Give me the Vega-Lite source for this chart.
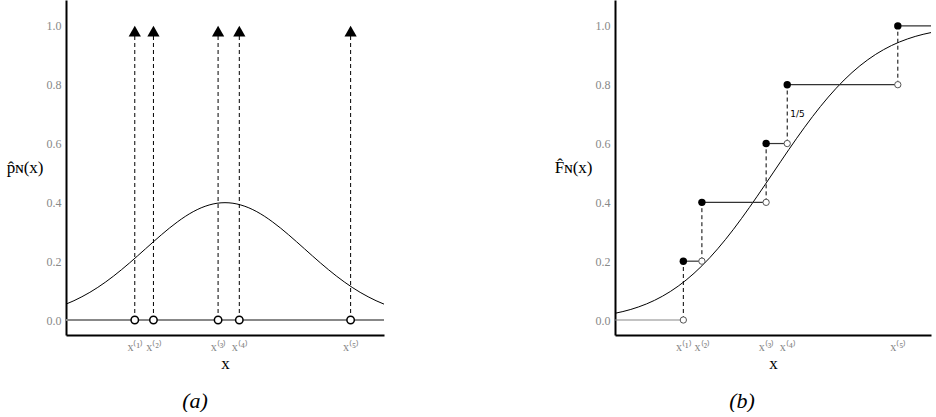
{
  "$schema": "https://vega.github.io/schema/vega-lite/v6.json",
  "padding": {"left": 6, "top": 0, "right": 4, "bottom": 0},
  "background": "white",
  "config": {
    "view": {"stroke": null},
    "font": "Liberation Serif",
    "axis": {"grid": false, "ticks": false, "domainColor": "#000", "domainWidth": 2, "labelColor": "#888", "labelFont": "Liberation Serif", "labelFontSize": 12, "titleFont": "Liberation Serif", "titleFontWeight": "normal", "titleFontSize": 17, "titleColor": "#000"},
    "title": {"font": "Liberation Serif", "fontStyle": "italic", "fontSize": 22, "fontWeight": "normal", "orient": "bottom", "anchor": "middle", "offset": 20, "color": "#000"}
  },
  "datasets": {
    "curve": [
      {"x": -2.0, "pdf": 0.0540, "cdf": 0.0228}, {"x": -1.9, "pdf": 0.0656, "cdf": 0.0287}, {"x": -1.8, "pdf": 0.0790, "cdf": 0.0359}, {"x": -1.7, "pdf": 0.0940, "cdf": 0.0446}, {"x": -1.6, "pdf": 0.1109, "cdf": 0.0548}, {"x": -1.5, "pdf": 0.1295, "cdf": 0.0668}, {"x": -1.4, "pdf": 0.1497, "cdf": 0.0808}, {"x": -1.3, "pdf": 0.1714, "cdf": 0.0968}, {"x": -1.2, "pdf": 0.1942, "cdf": 0.1151}, {"x": -1.1, "pdf": 0.2179, "cdf": 0.1357}, {"x": -1.0, "pdf": 0.2420, "cdf": 0.1587}, {"x": -0.9, "pdf": 0.2661, "cdf": 0.1841}, {"x": -0.8, "pdf": 0.2897, "cdf": 0.2119}, {"x": -0.7, "pdf": 0.3123, "cdf": 0.2420}, {"x": -0.6, "pdf": 0.3332, "cdf": 0.2743}, {"x": -0.5, "pdf": 0.3521, "cdf": 0.3085}, {"x": -0.4, "pdf": 0.3683, "cdf": 0.3446}, {"x": -0.3, "pdf": 0.3814, "cdf": 0.3821}, {"x": -0.2, "pdf": 0.3910, "cdf": 0.4207}, {"x": -0.1, "pdf": 0.3970, "cdf": 0.4602}, {"x": 0.0, "pdf": 0.3989, "cdf": 0.5000},
      {"x": 0.1, "pdf": 0.3970, "cdf": 0.5398}, {"x": 0.2, "pdf": 0.3910, "cdf": 0.5793}, {"x": 0.3, "pdf": 0.3814, "cdf": 0.6179}, {"x": 0.4, "pdf": 0.3683, "cdf": 0.6554}, {"x": 0.5, "pdf": 0.3521, "cdf": 0.6915}, {"x": 0.6, "pdf": 0.3332, "cdf": 0.7257}, {"x": 0.7, "pdf": 0.3123, "cdf": 0.7580}, {"x": 0.8, "pdf": 0.2897, "cdf": 0.7881}, {"x": 0.9, "pdf": 0.2661, "cdf": 0.8159}, {"x": 1.0, "pdf": 0.2420, "cdf": 0.8413}, {"x": 1.1, "pdf": 0.2179, "cdf": 0.8643}, {"x": 1.2, "pdf": 0.1942, "cdf": 0.8849}, {"x": 1.3, "pdf": 0.1714, "cdf": 0.9032}, {"x": 1.4, "pdf": 0.1497, "cdf": 0.9192}, {"x": 1.5, "pdf": 0.1295, "cdf": 0.9332}, {"x": 1.6, "pdf": 0.1109, "cdf": 0.9452}, {"x": 1.7, "pdf": 0.0940, "cdf": 0.9554}, {"x": 1.8, "pdf": 0.0790, "cdf": 0.9641}, {"x": 1.9, "pdf": 0.0656, "cdf": 0.9713}, {"x": 2.0, "pdf": 0.0540, "cdf": 0.9772}
    ],
    "samples": [
      {"x": -1.135, "rank": 1, "lo": 0.0, "hi": 0.2},
      {"x": -0.9, "rank": 2, "lo": 0.2, "hi": 0.4},
      {"x": -0.087, "rank": 3, "lo": 0.4, "hi": 0.6},
      {"x": 0.18, "rank": 4, "lo": 0.6, "hi": 0.8},
      {"x": 1.58, "rank": 5, "lo": 0.8, "hi": 1.0}
    ],
    "steps": [
      {"x": -2.0, "x2": -1.135, "y": 0.0},
      {"x": -1.135, "x2": -0.9, "y": 0.2},
      {"x": -0.9, "x2": -0.087, "y": 0.4},
      {"x": -0.087, "x2": 0.18, "y": 0.6},
      {"x": 0.18, "x2": 1.58, "y": 0.8},
      {"x": 1.58, "x2": 2.0, "y": 1.0}
    ],
    "note": [{"x": 0.18, "y": 0.70, "label": "1/5"}]
  },
  "spacing": 168,
  "hconcat": [
    {
      "title": {"text": "(a)", "dx": -30},
      "width": 318,
      "height": 335,
      "layer": [
        {
          "data": {"name": "curve"},
          "mark": {"type": "line", "color": "#000", "strokeWidth": 1, "interpolate": "monotone"},
          "encoding": {
            "x": {"field": "x", "type": "quantitative", "scale": {"domain": [-2, 2], "nice": false, "zero": false},
              "axis": {"values": [-1.135, -0.9, -0.087, 0.18, 1.58], "labelExpr": "datum.value < -1 ? 'x⁽¹⁾' : datum.value < -0.5 ? 'x⁽²⁾' : datum.value < 0 ? 'x⁽³⁾' : datum.value < 1 ? 'x⁽⁴⁾' : 'x⁽⁵⁾'", "title": "x", "labelPadding": 6, "titlePadding": 3}},
            "y": {"field": "pdf", "type": "quantitative", "scale": {"domain": [-0.051, 1.088], "nice": false, "zero": false},
              "axis": {"values": [0, 0.2, 0.4, 0.6, 0.8, 1.0], "format": ".1f", "title": "p̂ɴ(x)", "titleAngle": 0, "titleAlign": "right", "titleBaseline": "middle", "titlePadding": 3, "labelPadding": 5}}
          }
        },
        {
          "data": {"name": "samples"},
          "mark": {"type": "rule", "color": "#888", "strokeWidth": 1.5},
          "encoding": {"y": {"datum": 0}}
        },
        {
          "data": {"name": "samples"},
          "mark": {"type": "rule", "color": "#000", "strokeWidth": 1, "strokeDash": [4, 3]},
          "encoding": {
            "x": {"field": "x", "type": "quantitative"},
            "y": {"datum": 0},
            "y2": {"datum": 0.97}
          }
        },
        {
          "data": {"name": "samples"},
          "mark": {"type": "point", "shape": "triangle-up", "filled": true, "color": "#000", "size": 150, "opacity": 1},
          "encoding": {
            "x": {"field": "x", "type": "quantitative"},
            "y": {"datum": 0.982}
          }
        },
        {
          "data": {"name": "samples"},
          "mark": {"type": "point", "filled": true, "fill": "#fff", "stroke": "#000", "strokeWidth": 1.5, "size": 55, "opacity": 1},
          "encoding": {
            "x": {"field": "x", "type": "quantitative"},
            "y": {"datum": 0}
          }
        }
      ]
    },
    {
      "title": {"text": "(b)", "dx": -31},
      "width": 316,
      "height": 335,
      "layer": [
        {
          "data": {"name": "curve"},
          "mark": {"type": "line", "color": "#000", "strokeWidth": 1, "interpolate": "monotone"},
          "encoding": {
            "x": {"field": "x", "type": "quantitative", "scale": {"domain": [-2, 2], "nice": false, "zero": false},
              "axis": {"values": [-1.135, -0.9, -0.087, 0.18, 1.58], "labelExpr": "datum.value < -1 ? 'x⁽¹⁾' : datum.value < -0.5 ? 'x⁽²⁾' : datum.value < 0 ? 'x⁽³⁾' : datum.value < 1 ? 'x⁽⁴⁾' : 'x⁽⁵⁾'", "title": "x", "labelPadding": 6, "titlePadding": 3}},
            "y": {"field": "cdf", "type": "quantitative", "scale": {"domain": [-0.051, 1.088], "nice": false, "zero": false},
              "axis": {"values": [0, 0.2, 0.4, 0.6, 0.8, 1.0], "format": ".1f", "title": "F̂ɴ(x)", "titleAngle": 0, "titleAlign": "right", "titleBaseline": "middle", "titlePadding": 3, "labelPadding": 5}}
          }
        },
        {
          "data": {"name": "steps"},
          "mark": {"type": "rule", "strokeWidth": 1.2},
          "encoding": {
            "x": {"field": "x", "type": "quantitative"},
            "x2": {"field": "x2"},
            "y": {"field": "y", "type": "quantitative"},
            "color": {"condition": {"test": "datum.y == 0", "value": "#888"}, "value": "#333"}
          }
        },
        {
          "data": {"name": "samples"},
          "mark": {"type": "rule", "color": "#000", "strokeWidth": 1, "strokeDash": [4, 3]},
          "encoding": {
            "x": {"field": "x", "type": "quantitative"},
            "y": {"field": "lo", "type": "quantitative"},
            "y2": {"field": "hi"}
          }
        },
        {
          "data": {"name": "samples"},
          "mark": {"type": "point", "filled": true, "fill": "#fff", "stroke": "#555", "strokeWidth": 1, "size": 40, "opacity": 1},
          "encoding": {
            "x": {"field": "x", "type": "quantitative"},
            "y": {"field": "lo", "type": "quantitative"}
          }
        },
        {
          "data": {"name": "samples"},
          "mark": {"type": "point", "filled": true, "color": "#000", "size": 55, "opacity": 1},
          "encoding": {
            "x": {"field": "x", "type": "quantitative"},
            "y": {"field": "hi", "type": "quantitative"}
          }
        },
        {
          "data": {"name": "note"},
          "mark": {"type": "text", "font": "DejaVu Sans", "fontSize": 9, "align": "left", "baseline": "middle", "dx": 3, "color": "#000"},
          "encoding": {
            "x": {"field": "x", "type": "quantitative"},
            "y": {"field": "y", "type": "quantitative"},
            "text": {"field": "label"}
          }
        }
      ]
    }
  ]
}
